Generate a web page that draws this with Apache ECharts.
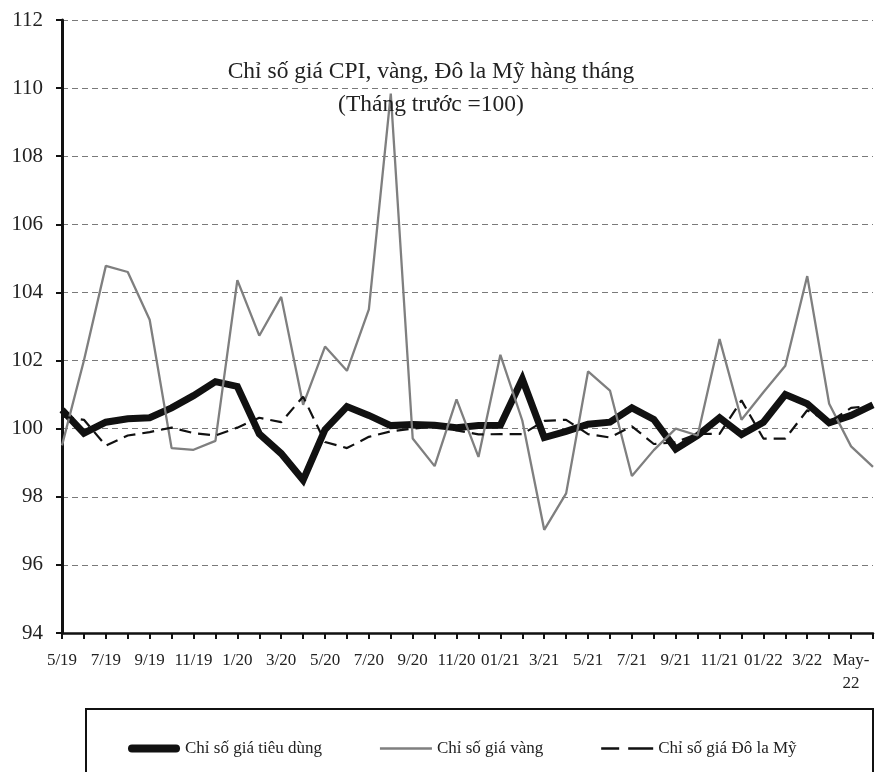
<!DOCTYPE html>
<html>
<head>
<meta charset="utf-8">
<script src="https://cdn.jsdelivr.net/npm/echarts@6/dist/echarts.min.js"></script>
<style>html,body{margin:0;padding:0;background:#fff}#c{width:882px;height:772px}</style>
</head>
<body>
<div id="c"></div>
<script>
var categories = ['5/19','6/19','7/19','8/19','9/19','10/19','11/19','12/19','1/20','2/20','3/20','4/20','5/20','6/20','7/20','8/20','9/20','10/20','11/20','12/20','01/21','2/21','3/21','4/21','5/21','6/21','7/21','8/21','9/21','10/21','11/21','12/21','01/22','2/22','3/22','4/22','May-\n22','6/22'];
var cpi  = [100.55,99.87,100.19,100.29,100.32,100.61,100.97,101.38,101.24,99.85,99.27,98.49,99.97,100.65,100.39,100.09,100.12,100.1,100.03,100.09,100.1,101.46,99.74,99.92,100.13,100.19,100.61,100.27,99.4,99.8,100.32,99.83,100.19,101.0,100.73,100.17,100.39,100.7];
var gold = [99.51,102.0,104.78,104.6,103.2,99.43,99.38,99.64,104.36,102.73,103.87,100.7,102.41,101.7,103.5,109.84,99.71,98.9,100.86,99.17,102.17,100.24,97.03,98.1,101.68,101.12,98.61,99.37,100.0,99.8,102.63,100.26,101.07,101.85,104.48,100.73,99.48,98.88];
var usd  = [100.36,100.26,99.5,99.8,99.9,100.03,99.87,99.8,100.03,100.32,100.19,100.94,99.61,99.43,99.76,99.92,100.0,100.07,99.95,99.83,99.84,99.84,100.23,100.26,99.84,99.74,100.07,99.55,99.6,99.85,99.85,100.83,99.71,99.71,100.54,100.19,100.61,100.68];
var yTicks = {min: 94, max: 112, interval: 2};
var names = ['Chỉ số giá tiêu dùng','Chỉ số giá vàng','Chỉ số giá Đô la Mỹ'];
var FONT = "'Liberation Serif', 'Times New Roman', serif";

var chart = echarts.init(document.getElementById('c'));
chart.setOption({
  animation: false,
  backgroundColor: '#fff',
  textStyle: {fontFamily: FONT},
  title: {
    text: 'Chỉ số giá CPI, vàng, Đô la Mỹ hàng tháng\n(Tháng trước =100)',
    left: 426, top: 50, textAlign: 'center',
    textStyle: {fontFamily: FONT, fontSize: 23.5, fontWeight: 'normal', color: '#222', lineHeight: 33}
  },
  grid: {left: 62, right: 9, top: 20, bottom: 139, containLabel: false},
  xAxis: {
    type: 'category', data: categories, boundaryGap: false,
    axisLine: {lineStyle: {color: '#111', width: 2.5}},
    axisTick: {show: true, interval: 0, length: 6, lineStyle: {color: '#111', width: 2}},
    axisLabel: {interval: 1, color: '#222', fontFamily: FONT, fontSize: 17, margin: 16, lineHeight: 23},
    splitLine: {show: false}
  },
  yAxis: {
    type: 'value', min: yTicks.min, max: yTicks.max, interval: yTicks.interval,
    axisLine: {show: true, lineStyle: {color: '#111', width: 3}},
    axisTick: {show: true, length: 6, lineStyle: {color: '#111', width: 2}},
    axisLabel: {color: '#222', fontFamily: FONT, fontSize: 21, margin: 19},
    splitLine: {show: true, lineStyle: {color: '#7a7a7a', width: 1, type: [6, 4]}}
  },
  legend: {
    left: 123, top: 735, itemGap: 58, itemWidth: 52, itemHeight: 14,
    textStyle: {fontFamily: FONT, fontSize: 17, color: '#222'},
    data: [
      {name: names[0], icon: 'path://M4,0 L48,0 A4,4 0 0 1 48,8 L4,8 A4,4 0 0 1 4,0 Z', itemStyle: {color: '#111'}},
      {name: names[1], icon: 'path://M0,0 L52,0 L52,2.5 L0,2.5 Z', itemStyle: {color: '#7f7f7f'}},
      {name: names[2], icon: 'path://M0,0 L18,0 L18,2.5 L0,2.5 Z M27,0 L52,0 L52,2.5 L27,2.5 Z', itemStyle: {color: '#111'}}
    ]
  },
  graphic: [{
    type: 'rect', silent: true, z: -1,
    shape: {x: 86, y: 709, width: 787, height: 90},
    style: {fill: 'none', stroke: '#111', lineWidth: 2}
  }],
  series: [
    {name: names[0], type: 'line', data: cpi, symbol: 'none', z: 3,
     lineStyle: {color: '#111', width: 7, join: 'miter'}, itemStyle: {color: '#111'}},
    {name: names[1], type: 'line', data: gold, symbol: 'none', z: 4,
     lineStyle: {color: '#7f7f7f', width: 2.3}, itemStyle: {color: '#7f7f7f'}},
    {name: names[2], type: 'line', data: usd, symbol: 'none', z: 5,
     lineStyle: {color: '#111', width: 2.2, type: [12, 7]}, itemStyle: {color: '#111'}}
  ]
});
</script>
</body>
</html>
